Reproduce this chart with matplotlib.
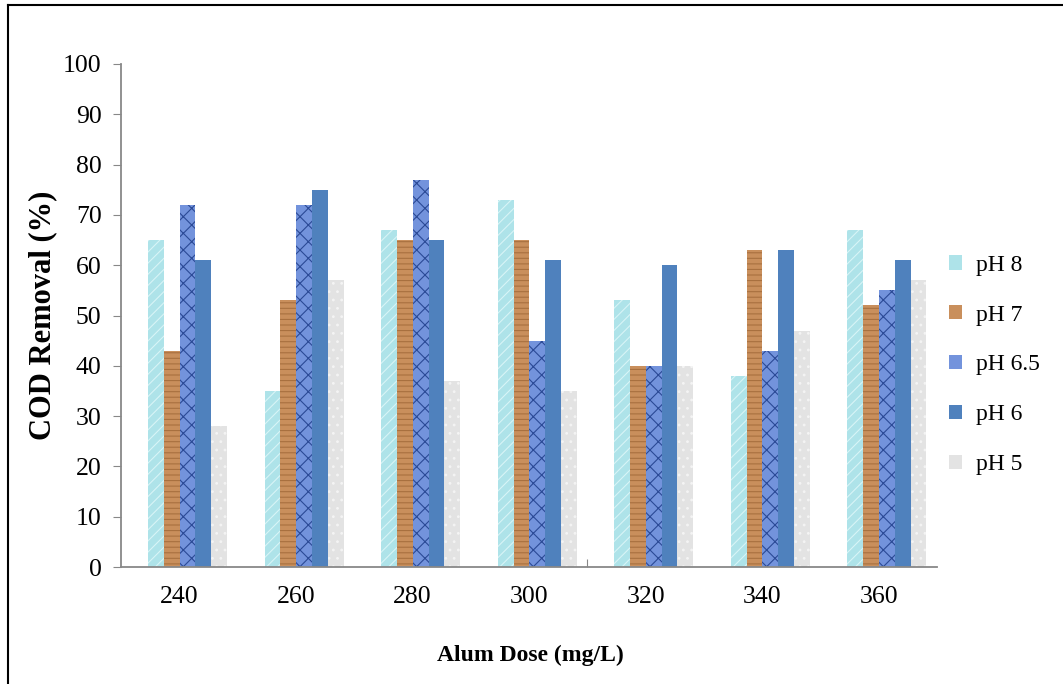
import numpy as np
import matplotlib.pyplot as plt
from matplotlib.lines import Line2D
from matplotlib.patches import Patch

doses = ["240", "260", "280", "300", "320", "340", "360"]
series = ["pH 8", "pH 7", "pH 6.5", "pH 6", "pH 5"]
ph8 = [65, 35, 67, 73, 53, 38, 67]
ph7 = [43, 53, 65, 65, 40, 63, 52]
ph65 = [72, 72, 77, 45, 40, 43, 55]
ph6 = [61, 75, 65, 61, 60, 63, 61]
ph5 = [28, 57, 37, 35, 40, 47, 57]

values = [ph8, ph7, ph65, ph6, ph5]
colors = ["#aee3e9", "#c98f5c", "#7393dc", "#4f81bd", "#e3e3e3"]
hatch_colors = ["#d8f4f6", "#a8703f", "#2b4a96", None, "#f4f4f4"]
hatches = ["///", "---", "xx", None, ".."]

plt.rcParams["font.family"] = ["Liberation Serif", "DejaVu Serif"]
plt.rcParams["hatch.linewidth"] = 0.8

fig = plt.figure(figsize=(10.63, 6.84), dpi=100)
ax = fig.add_axes([121 / 1063, 1 - 567 / 684, 816 / 1063, 503 / 684])

x = np.arange(len(doses))
w = 0.1355
start = 0.2316
for k in range(len(series)):
    for i in range(len(doses)):
        ax.bar(x[i] + start + k * w, values[k][i], width=w, align="edge",
               color=colors[k], edgecolor="none", linewidth=0)
        if hatches[k]:
            ax.bar(x[i] + start + k * w, values[k][i], width=w, align="edge",
                   color="none", edgecolor=hatch_colors[k], hatch=hatches[k], linewidth=0)

ax.set_xlim(0, 7)
ax.set_ylim(0, 100)
ax.set_yticks(range(0, 101, 10))
ax.set_xticks([4])
ax.set_xticklabels([""])
ax.set_xticks(x + 0.5, minor=True)
ax.set_xticklabels(doses, minor=True)
ax.tick_params(axis="x", which="minor", length=0, pad=14, labelsize=18.5)
ax.tick_params(axis="x", which="major", length=6, color="#888888", direction="in")
ax.tick_params(axis="y", length=6, color="#888888", labelsize=18.5, pad=8)
for s in ["top", "right"]:
    ax.spines[s].set_visible(False)
for s in ["left", "bottom"]:
    ax.spines[s].set_color("#888888")
    ax.spines[s].set_linewidth(1.3)

ax.set_ylabel("COD Removal (%)", fontsize=22, fontweight="bold")
ax.yaxis.set_label_coords(-64 / 816, 0.5)
fig.text(530 / 1063, 1 - 655 / 684, "Alum Dose (mg/L)", fontsize=17,
         fontweight="bold", ha="center", va="center")

handles = []
for k in range(len(series)):
    handles.append(Patch(facecolor=colors[k], edgecolor="none", label=series[k]))
fig.legend(handles=handles, loc="center left", bbox_to_anchor=(928 / 1063, 1 - 365 / 684),
           frameon=False, fontsize=17, handlelength=0.55, handleheight=0.55,
           handletextpad=0.6, labelspacing=1.22)

fig.add_artist(Line2D([8 / 1063, 8 / 1063], [0, 1 - 5 / 684], transform=fig.transFigure,
                      color="black", linewidth=1.5))
fig.add_artist(Line2D([8 / 1063, 1], [1 - 5 / 684, 1 - 5 / 684], transform=fig.transFigure,
                      color="black", linewidth=1.5))

fig.savefig("out.png", dpi=100)
